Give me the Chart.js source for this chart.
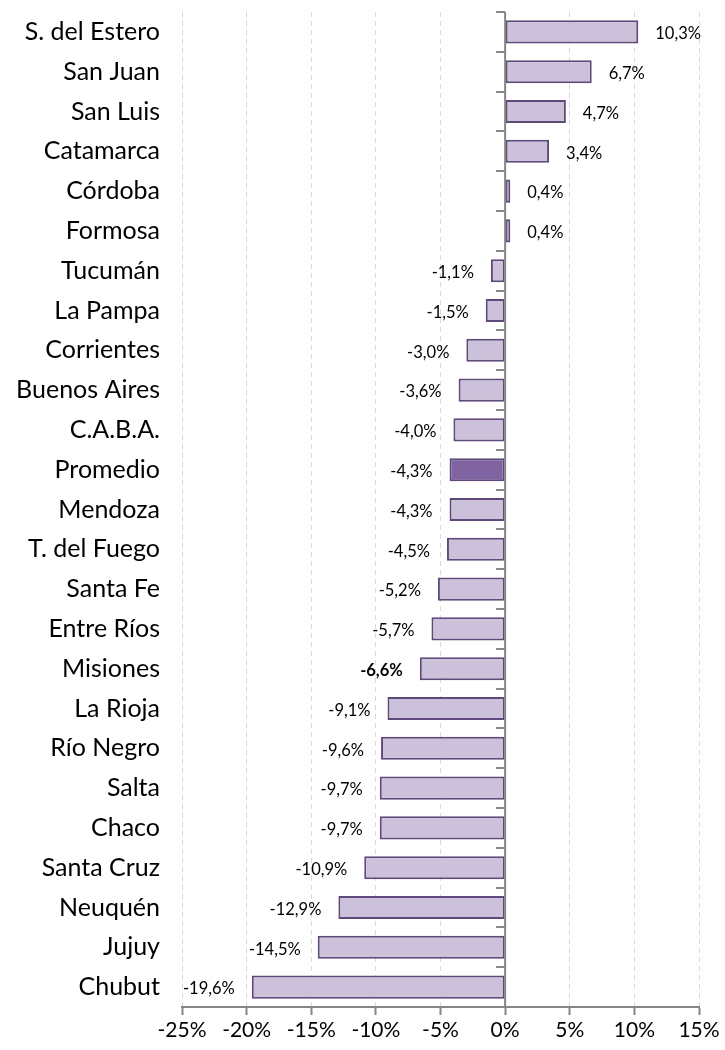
<!DOCTYPE html>
<html lang="es">
<head>
<meta charset="utf-8">
<title>Variación por provincia</title>
<script src="https://cdn.jsdelivr.net/npm/chart.js@4.4.0/dist/chart.umd.min.js"></script>
<style>
  html, body { margin: 0; padding: 0; background: #fff; }
  #wrap { width: 725px; height: 1050px; }
</style>
</head>
<body>
<div id="wrap"><canvas id="chart" width="725" height="1050"></canvas></div>
<script>
'use strict';

// Categories, top to bottom
const provinces = [
    'S. del Estero', 'San Juan', 'San Luis', 'Catamarca', 'Córdoba', 'Formosa',
    'Tucumán', 'La Pampa', 'Corrientes', 'Buenos Aires', 'C.A.B.A.', 'Promedio',
    'Mendoza', 'T. del Fuego', 'Santa Fe', 'Entre Ríos', 'Misiones', 'La Rioja',
    'Río Negro', 'Salta', 'Chaco', 'Santa Cruz', 'Neuquén', 'Jujuy', 'Chubut'
];
// Variation in %
const variation = [
    10.3, 6.7, 4.7, 3.4, 0.4, 0.4,
    -1.1, -1.5, -3.0, -3.6, -4.0, -4.3,
    -4.3, -4.5, -5.2, -5.7, -6.6, -9.1,
    -9.6, -9.7, -9.7, -10.9, -12.9, -14.5, -19.6
];
const xTicks = [-25, -20, -15, -10, -5, 0, 5, 10, 15];
const highlight = 'Promedio';
const boldLabel = 'Misiones';

const palette = { fill: '#CCC1DA', dark: '#8064A2', edge: '#5F497A', axis: '#868686', grid: '#D9D9D9' };
const FONT = 'Lato, "Open Sans", sans-serif';

const fmt = v => v.toFixed(1).replace('.', ',') + '%';

// Vertical zero line with small ticks between categories
const zeroAxis = {
    id: 'zeroAxis',
    afterDatasetsDraw(chart) {
        const { ctx, chartArea, scales } = chart;
        const x0 = scales.x.getPixelForValue(0);
        ctx.save();
        ctx.strokeStyle = palette.axis;
        ctx.lineWidth = 2;
        ctx.beginPath();
        ctx.moveTo(x0, chartArea.top);
        ctx.lineTo(x0, chartArea.bottom);
        for (let i = 0; i <= provinces.length; i++) {
            const y = Math.round(scales.y.getPixelForValue(i - 0.5));
            ctx.moveTo(x0, y);
            ctx.lineTo(x0 - 9, y);
        }
        ctx.stroke();
        ctx.restore();
    }
};

// Value labels beside each bar
const valueLabels = {
    id: 'valueLabels',
    afterDatasetsDraw(chart) {
        const { ctx } = chart;
        const meta = chart.getDatasetMeta(0);
        ctx.save();
        ctx.fillStyle = '#000';
        ctx.textBaseline = 'middle';
        meta.data.forEach((bar, i) => {
            const v = variation[i];
            ctx.font = (provinces[i] === boldLabel ? 'bold ' : '') + '16.5px ' + FONT;
            if (v >= 0) {
                ctx.textAlign = 'left';
                ctx.fillText(fmt(v), bar.x + 17, bar.y + 2);
            } else {
                ctx.textAlign = 'right';
                ctx.fillText(fmt(v), bar.x - 17, bar.y + 2);
            }
        });
        ctx.restore();
    }
};

new Chart(document.getElementById('chart'), {
    type: 'bar',
    data: {
        labels: provinces,
        datasets: [{
            data: variation,
            backgroundColor: provinces.map(p => p === highlight ? palette.dark : palette.fill),
            borderColor: palette.edge,
            borderWidth: 2,
            borderSkipped: false,
            categoryPercentage: 1,
            barPercentage: 0.58
        }]
    },
    options: {
        indexAxis: 'y',
        responsive: false,
        animation: false,
        layout: { padding: { top: 12, right: 26, bottom: 0, left: 0 } },
        plugins: { legend: { display: false }, tooltip: { enabled: false } },
        scales: {
            x: {
                min: -25,
                max: 15,
                afterBuildTicks: s => { s.ticks = xTicks.map(v => ({ value: v })); },
                afterFit: s => { s.height = 43; s.paddingLeft = 0; s.paddingRight = 0; },
                grid: {
                    color: palette.grid,
                    lineWidth: 1,
                    tickColor: palette.axis,
                    tickLength: 8,
                    tickWidth: 2
                },
                border: { color: palette.axis, width: 2, dash: [5, 4] },
                ticks: {
                    color: '#000',
                    padding: 3,
                    font: { family: FONT, size: 21 },
                    callback: v => v + '%'
                }
            },
            y: {
                afterFit: s => { s.width = 182; s.paddingTop = 0; s.paddingBottom = 0; },
                grid: { display: false },
                border: { display: false },
                ticks: {
                    color: '#000',
                    padding: 14,
                    font: { family: FONT, size: 25 }
                }
            }
        }
    },
    plugins: [zeroAxis, valueLabels]
});
</script>
</body>
</html>
